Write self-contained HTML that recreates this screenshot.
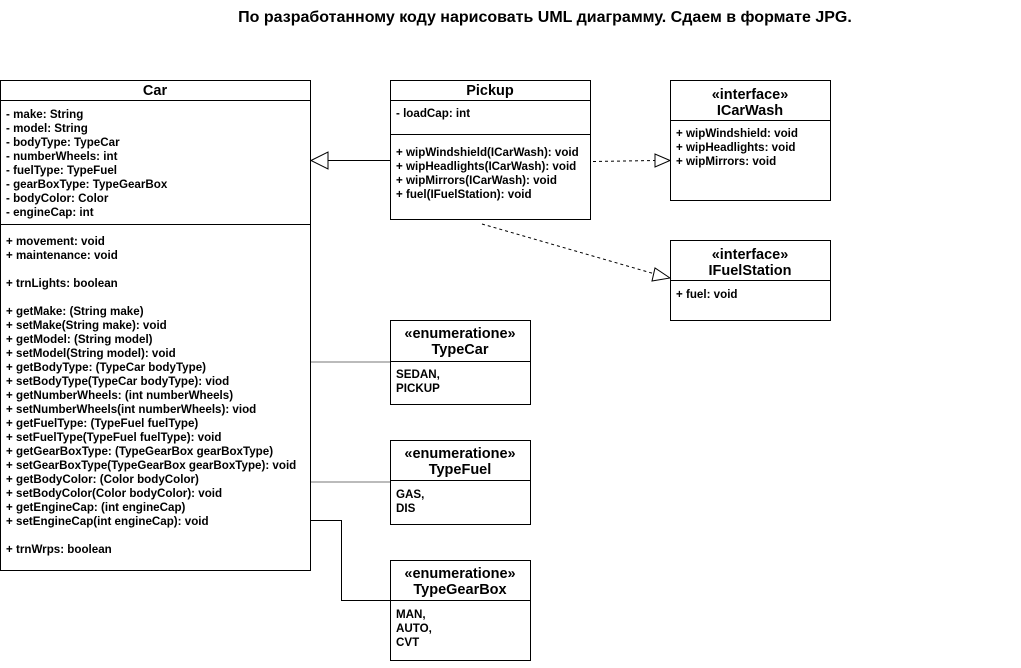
<!DOCTYPE html>
<html><head><meta charset="utf-8"><style>
html,body{margin:0;padding:0;background:#fff;}
svg text{font-family:"Liberation Sans",Arial,sans-serif;font-size:11.6px;font-weight:bold;fill:#000;}
svg text.h{font-size:14.5px;}
</style></head><body>
<svg width="1021" height="663" viewBox="0 0 1021 663" xmlns="http://www.w3.org/2000/svg">
<text x="545" y="22" text-anchor="middle" style="font-size:16px">По разработанному коду нарисовать UML диаграмму. Сдаем в формате JPG.</text>

<g fill="#fff" stroke="#000" stroke-width="1">
<rect x="0.5" y="80.5" width="310" height="490"/>
<line x1="0" y1="100.5" x2="311" y2="100.5"/>
<line x1="0" y1="224.5" x2="311" y2="224.5"/>
<rect x="390.5" y="80.5" width="200" height="139"/>
<line x1="390" y1="100.5" x2="591" y2="100.5"/>
<line x1="390" y1="134.5" x2="591" y2="134.5"/>
<rect x="670.5" y="80.5" width="160" height="120"/>
<line x1="670" y1="120.5" x2="831" y2="120.5"/>
<rect x="670.5" y="240.5" width="160" height="80"/>
<line x1="670" y1="280.5" x2="831" y2="280.5"/>
<rect x="390.5" y="320.5" width="140" height="84"/>
<line x1="390" y1="361.5" x2="531" y2="361.5"/>
<rect x="390.5" y="440.5" width="140" height="84"/>
<line x1="390" y1="480.5" x2="531" y2="480.5"/>
<rect x="390.5" y="560.5" width="140" height="100"/>
<line x1="390" y1="600.5" x2="531" y2="600.5"/>
</g>

<g fill="none" stroke-width="1">
<line x1="390" y1="160.5" x2="328" y2="160.5" stroke="#000"/>
<polygon points="311,160.5 328,152 328,169" fill="#fff" stroke="#000"/>
<line x1="593" y1="161.5" x2="655" y2="160.5" stroke="#000" stroke-dasharray="3,3"/>
<polygon points="670,160.5 655,154 655,167" fill="#fff" stroke="#000"/>
<line x1="482" y1="224" x2="655" y2="274" stroke="#000" stroke-dasharray="3,3"/>
<polygon points="670,278 655,268 652,281" fill="#fff" stroke="#000"/>
<line x1="311" y1="362" x2="390" y2="362" stroke="#777"/>
<line x1="311" y1="482" x2="390" y2="482" stroke="#777"/>
<polyline points="311,520.5 341.5,520.5 341.5,600.5 390,600.5" stroke="#000"/>
</g>

<text x="155" y="95" text-anchor="middle" class="h">Car</text>
<g>
<text x="6" y="118">- make: String</text>
<text x="6" y="132">- model: String</text>
<text x="6" y="146">- bodyType: TypeCar</text>
<text x="6" y="160">- numberWheels: int</text>
<text x="6" y="174">- fuelType: TypeFuel</text>
<text x="6" y="188">- gearBoxType: TypeGearBox</text>
<text x="6" y="202">- bodyColor: Color</text>
<text x="6" y="216">- engineCap: int</text>
<text x="6" y="245">+ movement: void</text>
<text x="6" y="259">+ maintenance: void</text>
<text x="6" y="287">+ trnLights: boolean</text>
<text x="6" y="315">+ getMake: (String make)</text>
<text x="6" y="329">+ setMake(String make): void</text>
<text x="6" y="343">+ getModel: (String model)</text>
<text x="6" y="357">+ setModel(String model): void</text>
<text x="6" y="371">+ getBodyType: (TypeCar bodyType)</text>
<text x="6" y="385">+ setBodyType(TypeCar bodyType): viod</text>
<text x="6" y="399">+ getNumberWheels: (int numberWheels)</text>
<text x="6" y="413">+ setNumberWheels(int numberWheels): viod</text>
<text x="6" y="427">+ getFuelType: (TypeFuel fuelType)</text>
<text x="6" y="441">+ setFuelType(TypeFuel fuelType): void</text>
<text x="6" y="455">+ getGearBoxType: (TypeGearBox gearBoxType)</text>
<text x="6" y="469">+ setGearBoxType(TypeGearBox gearBoxType): void</text>
<text x="6" y="483">+ getBodyColor: (Color bodyColor)</text>
<text x="6" y="497">+ setBodyColor(Color bodyColor): void</text>
<text x="6" y="511">+ getEngineCap: (int engineCap)</text>
<text x="6" y="525">+ setEngineCap(int engineCap): void</text>
<text x="6" y="553">+ trnWrps: boolean</text>
</g>

<text x="490" y="95" text-anchor="middle" class="h">Pickup</text>
<text x="396" y="117">- loadCap: int</text>
<text x="396" y="156">+ wipWindshield(ICarWash): void</text>
<text x="396" y="170">+ wipHeadlights(ICarWash): void</text>
<text x="396" y="184">+ wipMirrors(ICarWash): void</text>
<text x="396" y="198">+ fuel(IFuelStation): void</text>

<text x="750" y="99" text-anchor="middle" class="h">«interface»</text>
<text x="750" y="115" text-anchor="middle" class="h">ICarWash</text>
<text x="676" y="137">+ wipWindshield: void</text>
<text x="676" y="151">+ wipHeadlights: void</text>
<text x="676" y="165">+ wipMirrors: void</text>

<text x="750" y="259" text-anchor="middle" class="h">«interface»</text>
<text x="750" y="275" text-anchor="middle" class="h">IFuelStation</text>
<text x="676" y="298">+ fuel: void</text>

<text x="460" y="338" text-anchor="middle" class="h">«enumeratione»</text>
<text x="460" y="354" text-anchor="middle" class="h">TypeCar</text>
<text x="396" y="378">SEDAN,</text>
<text x="396" y="392">PICKUP</text>

<text x="460" y="458" text-anchor="middle" class="h">«enumeratione»</text>
<text x="460" y="474" text-anchor="middle" class="h">TypeFuel</text>
<text x="396" y="498">GAS,</text>
<text x="396" y="512">DIS</text>

<text x="460" y="578" text-anchor="middle" class="h">«enumeratione»</text>
<text x="460" y="594" text-anchor="middle" class="h">TypeGearBox</text>
<text x="396" y="618">MAN,</text>
<text x="396" y="632">AUTO,</text>
<text x="396" y="646">CVT</text>
</svg>
</body></html>
